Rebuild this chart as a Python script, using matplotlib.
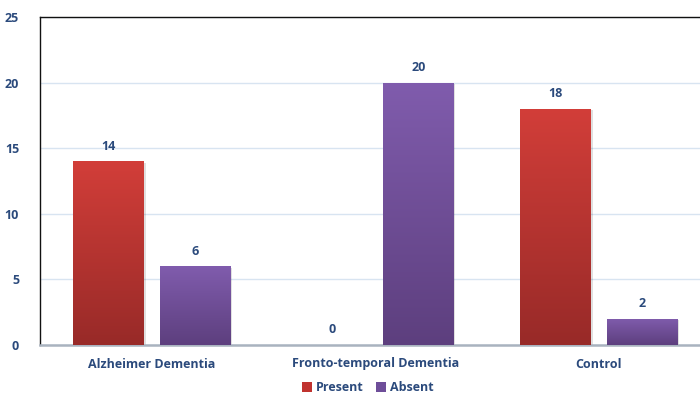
import matplotlib
matplotlib.use("Agg")
import matplotlib.pyplot as plt
import numpy as np
from matplotlib.colors import LinearSegmentedColormap
from matplotlib.patches import Patch

categories = ["Alzheimer Dementia", "Fronto-temporal Dementia", "Control"]
present = [14, 0, 18]
absent = [6, 20, 2]
series_names = ["Present", "Absent"]

text_color = "#2b4a7c"
red_top, red_bottom = "#d23e39", "#982a28"
pur_top, pur_bottom = "#805cad", "#5d3f7e"

plt.rcParams["font.family"] = ["Open Sans", "DejaVu Sans"]

fig = plt.figure(figsize=(7.0, 3.97), dpi=100)
ax = fig.add_axes([40 / 700, 52 / 397, 660 / 700, 328 / 397])

x = np.arange(len(categories))
width = 0.315
offset = 0.193

def gradient_bars(xpos, values, top, bottom, zorder=3):
    cmap = LinearSegmentedColormap.from_list("g", [bottom, top])
    grad = np.linspace(0, 1, 256).reshape(-1, 1)
    bars = ax.bar(xpos, values, width, color="none", edgecolor="none", zorder=zorder)
    for b, v in zip(bars, values):
        if v <= 0:
            continue
        x0 = b.get_x()
        # soft drop shadow
        ax.bar(x0 + width / 2 + 0.008, v, width, bottom=-0.12, color="#000000",
               alpha=0.12, zorder=zorder - 0.5, linewidth=0)
        im = ax.imshow(grad, cmap=cmap, aspect="auto", origin="lower",
                       extent=[x0, x0 + width, 0, v], zorder=zorder)
        im.set_clip_path(b)
    return bars

bars_p = gradient_bars(x - offset, present, red_top, red_bottom)
bars_a = gradient_bars(x + offset, absent, pur_top, pur_bottom)

for xs, vals in ((x - offset, present), (x + offset, absent)):
    for xi, v in zip(xs, vals):
        ax.text(xi, v + 0.65, f"{v}", ha="center", va="bottom", fontsize=9,
                fontweight="bold", color=text_color, zorder=5)

ax.set_xlim(-0.5, -0.5 + 660 / 223.5)
ax.set_ylim(0, 25)
ax.set_yticks([0, 5, 10, 15, 20, 25])
ax.set_xticks(x)
ax.set_xticklabels(categories)
ax.tick_params(axis="both", length=0, labelsize=9, colors=text_color)
for lbl in ax.get_xticklabels() + ax.get_yticklabels():
    lbl.set_fontweight("bold")
ax.tick_params(axis="y", pad=15)
ax.tick_params(axis="x", pad=9)

ax.grid(axis="y", color="#d8e4f1", linewidth=1.0, zorder=0)
ax.set_axisbelow(True)
ax.spines["right"].set_visible(False)
ax.spines["top"].set_color("#111111")
ax.spines["top"].set_linewidth(1.0)
ax.spines["left"].set_color("#111111")
ax.spines["left"].set_linewidth(1.0)
ax.spines["bottom"].set_color("#a9b3bf")
ax.spines["bottom"].set_linewidth(1.8)

handles = [Patch(facecolor="#c0332f", edgecolor="none"),
           Patch(facecolor="#6e4e99", edgecolor="none")]
leg = fig.legend(handles, series_names, loc="lower center",
                 bbox_to_anchor=(0.525, -0.022), ncol=2, frameon=False,
                 handlelength=0.8, handleheight=0.8, handletextpad=0.3,
                 columnspacing=1.0, fontsize=9)
for t in leg.get_texts():
    t.set_color(text_color)
    t.set_fontweight("bold")

fig.savefig("out.png", dpi=100)
